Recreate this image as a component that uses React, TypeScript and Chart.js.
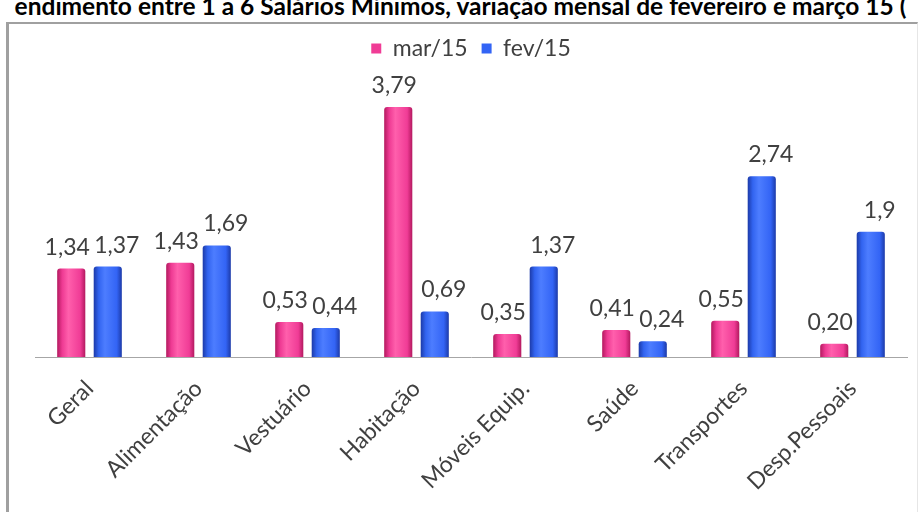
import React, { useEffect, useRef } from "react";
import { Chart, registerables } from "chart.js";

Chart.register(...registerables);

const categories = [
  "Geral",
  "Alimentação",
  "Vestuário",
  "Habitação",
  "Móveis Equip.",
  "Saúde",
  "Transportes",
  "Desp.Pessoais",
];
const marValues = [1.34, 1.43, 0.53, 3.79, 0.35, 0.41, 0.55, 0.2];
const fevValues = [1.37, 1.69, 0.44, 0.69, 1.37, 0.24, 2.74, 1.9];
const marLabels = ["1,34", "1,43", "0,53", "3,79", "0,35", "0,41", "0,55", "0,20"];
const fevLabels = ["1,37", "1,69", "0,44", "0,69", "1,37", "0,24", "2,74", "1,9"];
const seriesNames = ["mar/15", "fev/15"];
const titleText =
  "endimento entre 1 a 6 Salários Mínimos, variação mensal de fevereiro e março 15 (";

const FONT = "Lato, 'Open Sans', sans-serif";
const TEXT = "#404040";

const gradientPlugin = {
  id: "barGradient",
  beforeDatasetsDraw(chart: any) {
    const ctx = chart.ctx;
    const stops = [
      ["#b3195f", "#ee3a93", "#ff5fac", "#f03c96", "#b3195f"],
      ["#1c3aa8", "#3264f0", "#4d7dff", "#3364f5", "#1c3aa8"],
    ];
    chart.data.datasets.forEach((ds: any, di: number) => {
      const meta = chart.getDatasetMeta(di);
      meta.data.forEach((el: any) => {
        const w = el.width;
        const g = ctx.createLinearGradient(el.x - w / 2, 0, el.x + w / 2, 0);
        const s = stops[di];
        g.addColorStop(0, s[0]);
        g.addColorStop(0.18, s[1]);
        g.addColorStop(0.4, s[2]);
        g.addColorStop(0.82, s[3]);
        g.addColorStop(1, s[4]);
        el.options = { ...el.options, backgroundColor: g };
      });
    });
  },
};

const labelPlugin = {
  id: "valueLabels",
  afterDatasetsDraw(chart: any) {
    const ctx = chart.ctx;
    const texts = [marLabels, fevLabels];
    const shift = [-4, 9];
    ctx.save();
    ctx.font = `23px ${FONT}`;
    ctx.fillStyle = TEXT;
    ctx.textAlign = "center";
    ctx.textBaseline = "bottom";
    chart.data.datasets.forEach((ds: any, di: number) => {
      const meta = chart.getDatasetMeta(di);
      meta.data.forEach((el: any, i: number) => {
        ctx.fillText(texts[di][i], el.x + shift[di], el.y - 10);
      });
    });
    ctx.restore();
  },
};

export default function App() {
  const ref = useRef<HTMLCanvasElement | null>(null);

  useEffect(() => {
    if (!ref.current) return;
    const chart = new Chart(ref.current, {
      type: "bar",
      data: {
        labels: categories,
        datasets: [
          {
            label: seriesNames[0],
            data: marValues,
            backgroundColor: "#f03c96",
            borderColor: "#b3195f",
            borderWidth: 0,
            borderRadius: { topLeft: 3, topRight: 3 },
            borderSkipped: "bottom",
          },
          {
            label: seriesNames[1],
            data: fevValues,
            backgroundColor: "#3364f5",
            borderColor: "#1c3aa8",
            borderWidth: 0,
            borderRadius: { topLeft: 3, topRight: 3 },
            borderSkipped: "bottom",
          },
        ],
      },
      options: {
        animation: false,
        responsive: false,
        maintainAspectRatio: false,
        devicePixelRatio: 1,
        categoryPercentage: 0.67,
        barPercentage: 0.77,
        layout: { padding: { left: 35, right: 14, top: 23, bottom: 0 } },
        plugins: {
          title: { display: false },
          tooltip: { enabled: false },
          legend: {
            display: true,
            position: "top",
            labels: {
              boxWidth: 10,
              boxHeight: 10,
              padding: 14,
              color: TEXT,
              font: { family: FONT, size: 23 },
            },
          },
        },
        scales: {
          x: {
            grid: { display: false },
            border: { display: true, color: "#a6a6a6", width: 1 },
            ticks: {
              color: TEXT,
              font: { family: FONT, size: 23 },
              maxRotation: 45,
              minRotation: 45,
              autoSkip: false,
              padding: 10,
            },
            afterFit(scale: any) {
              scale.height = 155;
            },
          },
          y: {
            display: false,
            min: 0,
            max: 4.35,
          },
        },
      },
      plugins: [gradientPlugin, labelPlugin],
    });
    return () => chart.destroy();
  }, []);

  return (
    <div
      style={{
        position: "fixed",
        left: 0,
        top: 0,
        width: 921,
        height: 512,
        overflow: "hidden",
        background: "#ffffff",
      }}
    >
      <div
        style={{
          position: "absolute",
          left: 0,
          top: -7,
          width: 921,
          whiteSpace: "nowrap",
          fontFamily: FONT,
          fontWeight: 700,
          fontSize: 24.5,
          lineHeight: "25px",
          color: "#000",
          textAlign: "center",
        }}
      >
        {titleText}
      </div>
      <div
        style={{
          position: "absolute",
          left: 6,
          top: 22,
          width: 912,
          height: 500,
          borderTop: "2px solid #a0a0a0",
          borderLeft: "3px solid #a0a0a0",
          borderRight: "1px solid #e6e6e6",
          boxSizing: "border-box",
        }}
      />
      <canvas
        ref={ref}
        width={921}
        height={512}
        style={{ position: "absolute", left: 0, top: 0, width: 921, height: 512 }}
      />
    </div>
  );
}
